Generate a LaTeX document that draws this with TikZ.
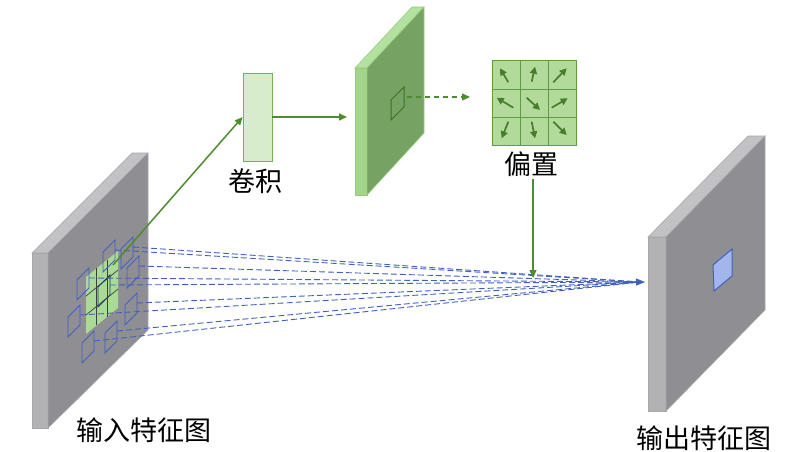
\documentclass[tikz,border=0pt]{standalone}
\usepackage{fontspec}
\newfontfamily\cjk{Noto Sans CJK SC}
\usetikzlibrary{calc,arrows.meta}
\definecolor{slabface}{RGB}{142,142,147}
\definecolor{slabside}{RGB}{178,178,181}
\definecolor{slabtop}{RGB}{194,194,196}
\definecolor{slabline}{RGB}{168,168,171}
\definecolor{greenface}{RGB}{118,162,100}
\definecolor{greenside}{RGB}{162,213,138}
\definecolor{greentop}{RGB}{180,224,160}
\definecolor{greenline}{RGB}{150,206,126}
\definecolor{convfill}{RGB}{214,236,204}
\definecolor{convline}{RGB}{118,178,94}
\definecolor{biasfill}{RGB}{178,218,155}
\definecolor{biasline}{RGB}{96,156,70}
\definecolor{arrowgreen}{RGB}{78,140,48}
\definecolor{patchgreen}{RGB}{170,218,150}
\definecolor{sampleblue}{RGB}{66,96,190}
\definecolor{outfill}{RGB}{162,182,236}
\tikzset{
	cjklabel/.style={inner sep=0pt, font=\cjk\fontsize{27}{30}\selectfont},
	greenarrow/.style={line width=1.5pt, color=arrowgreen, -{Triangle[length=8pt,width=7pt]}},
	shiftarrow/.style={line width=1.7pt, color=arrowgreen!90!black, -{Triangle[length=7pt,width=7pt]}},
	samplebox/.style={line width=0.9pt, draw=sampleblue},
	sampleline/.style={line width=0.9pt, color=sampleblue, dash pattern=on 6pt off 3pt},
}
\def\samplesq[#1](#2,#3)#4{\draw[#1] (#2,#3) -- ++(12,-12) -- ++(0,20) -- ++(-12,12) -- cycle; \coordinate (#4) at (#2+12,#3-2);}

\begin{document}
\begin{tikzpicture}[x=1pt,y=-1pt]
			%%%%% START %%%%%
			\useasboundingbox (0,0) rectangle (800,452);
			
			% input feature map
			\draw[line width=0.6pt, draw=slabline, fill=slabtop] (32,253) -- (132,153) -- (148,153) -- (48,253) -- cycle;
			\draw[line width=0.6pt, draw=slabline, fill=slabside] (32,253) rectangle (48,428);
			\draw[line width=0.6pt, draw=slabline, fill=slabface] (48,253) -- (148,153) -- (148,330) -- (48,428) -- cycle;
			
			\fill[patchgreen] (86,277) -- (118,251) -- (118,308) -- (86,334) -- cycle;
			\draw[line width=0.7pt, color=black!75] (96.7,268.3) -- (96.7,325.3);
			\draw[line width=0.7pt, color=black!75] (107.3,259.7) -- (107.3,316.7);
			\draw[line width=0.7pt, color=black!75] (86,296) -- (118,270);
			\draw[line width=0.7pt, color=black!75] (86,315) -- (118,289);
			\coordinate (patch) at (113,265);
			
			\samplesq[samplebox](103,252){s1}
			\samplesq[samplebox](121,249){s2}
			\samplesq[samplebox](77,280){s3}
			\samplesq[samplebox](127,268){s4}
			\samplesq[samplebox, draw=sampleblue!60!black](98,287){s5}
			\samplesq[samplebox](68,317){s6}
			\samplesq[samplebox](125,305){s7}
			\samplesq[samplebox](105,333){s8}
			\samplesq[samplebox](82,343){s9}
			
			% output feature map
			\draw[line width=0.6pt, draw=slabline, fill=slabtop] (648,237) -- (748,136) -- (765,136) -- (666,237) -- cycle;
			\draw[line width=0.6pt, draw=slabline, fill=slabside] (648,237) rectangle (666,411);
			\draw[line width=0.6pt, draw=slabline, fill=slabface] (666,237) -- (765,136) -- (765,310) -- (666,411) -- cycle;
			\draw[line width=1pt, draw=sampleblue, fill=outfill] (713,265) -- (732,249) -- (732,276) -- (714,291) -- cycle;
			
			\coordinate (meet) at (640,282);
			\coordinate (tip) at (645,282);
			\draw[sampleline] (s1) -- (meet);
			\draw[sampleline] (s2) -- (meet);
			\draw[sampleline] (s3) -- (meet);
			\draw[sampleline] (s4) -- (meet);
			\draw[sampleline] (s6) -- (meet);
			\draw[sampleline] (s7) -- (meet);
			\draw[sampleline] (s8) -- (meet);
			\draw[sampleline] (s9) -- (meet);
			\draw[sampleline, -{Triangle[length=9pt,width=7pt]}] (s5) -- (tip);
			
			% convolution
			\node[draw=convline, line width=0.8pt, fill=convfill, minimum width=29pt, minimum height=88pt, inner sep=0pt] (conv) at (257.5,117) {};
			\node[cjklabel] (convlabel) at (255,181) {卷积};
			\draw[greenarrow] (patch) -- (conv.west);
			
			% offset field
			\draw[line width=0.6pt, draw=greenline, fill=greentop] (355,68) -- (412,7) -- (424,7) -- (367,68) -- cycle;
			\draw[line width=0.6pt, draw=greenline, fill=greenside] (355,68) rectangle (367,195);
			\draw[line width=0.6pt, draw=greenline, fill=greenface] (367,68) -- (424,7) -- (424,133) -- (367,195) -- cycle;
			\draw[line width=1pt, draw=arrowgreen!80!black] (391,100) -- (404,87) -- (404,107) -- (391,120) -- cycle;
			\coordinate (field) at (347,117);
			\draw[greenarrow] (conv.east) -- (field);
			
			\coordinate (cell) at (407,97);
			\coordinate (biasin) at (470,97);
			\draw[greenarrow, dash pattern=on 5pt off 4pt] (cell) -- (biasin);
			
			% offsets
			\draw[line width=1pt, draw=biasline, fill=biasfill] (492,61) rectangle (576,145);
			\draw[line width=1pt, color=biasline] (520,61) -- (520,145);
			\draw[line width=1pt, color=biasline] (548,61) -- (548,145);
			\draw[line width=1pt, color=biasline] (492,89) -- (576,89);
			\draw[line width=1pt, color=biasline] (492,117) -- (576,117);
			
			\draw[shiftarrow] (508.3,82.3) -- (500,68.3);
			\draw[shiftarrow] (531.7,81.7) -- (535,66.7);
			\draw[shiftarrow] (553.3,82.3) -- (566.7,68.3);
			\draw[shiftarrow] (513.3,107.7) -- (496.7,97.7);
			\draw[shiftarrow] (526.7,97.7) -- (540,110);
			\draw[shiftarrow] (551.7,107.7) -- (567.7,98.3);
			\draw[shiftarrow] (508.3,121.7) -- (501.7,138.3);
			\draw[shiftarrow] (531.7,121.7) -- (535,138.3);
			\draw[shiftarrow] (553.3,121.7) -- (566.7,135);
			
			\node[cjklabel] (biaslabel) at (531,164) {偏置};
			\coordinate (sum) at (533,278);
			\draw[greenarrow, line width=1.2pt] ([yshift=-2pt]biaslabel.south -| sum) -- (sum);
			
			\node[cjklabel] (inlabel) at (144,430) {输入特征图};
			\node[cjklabel] (outlabel) at (704,438) {输出特征图};
			
			%%%%% END %%%%%
\end{tikzpicture}
\end{document}
